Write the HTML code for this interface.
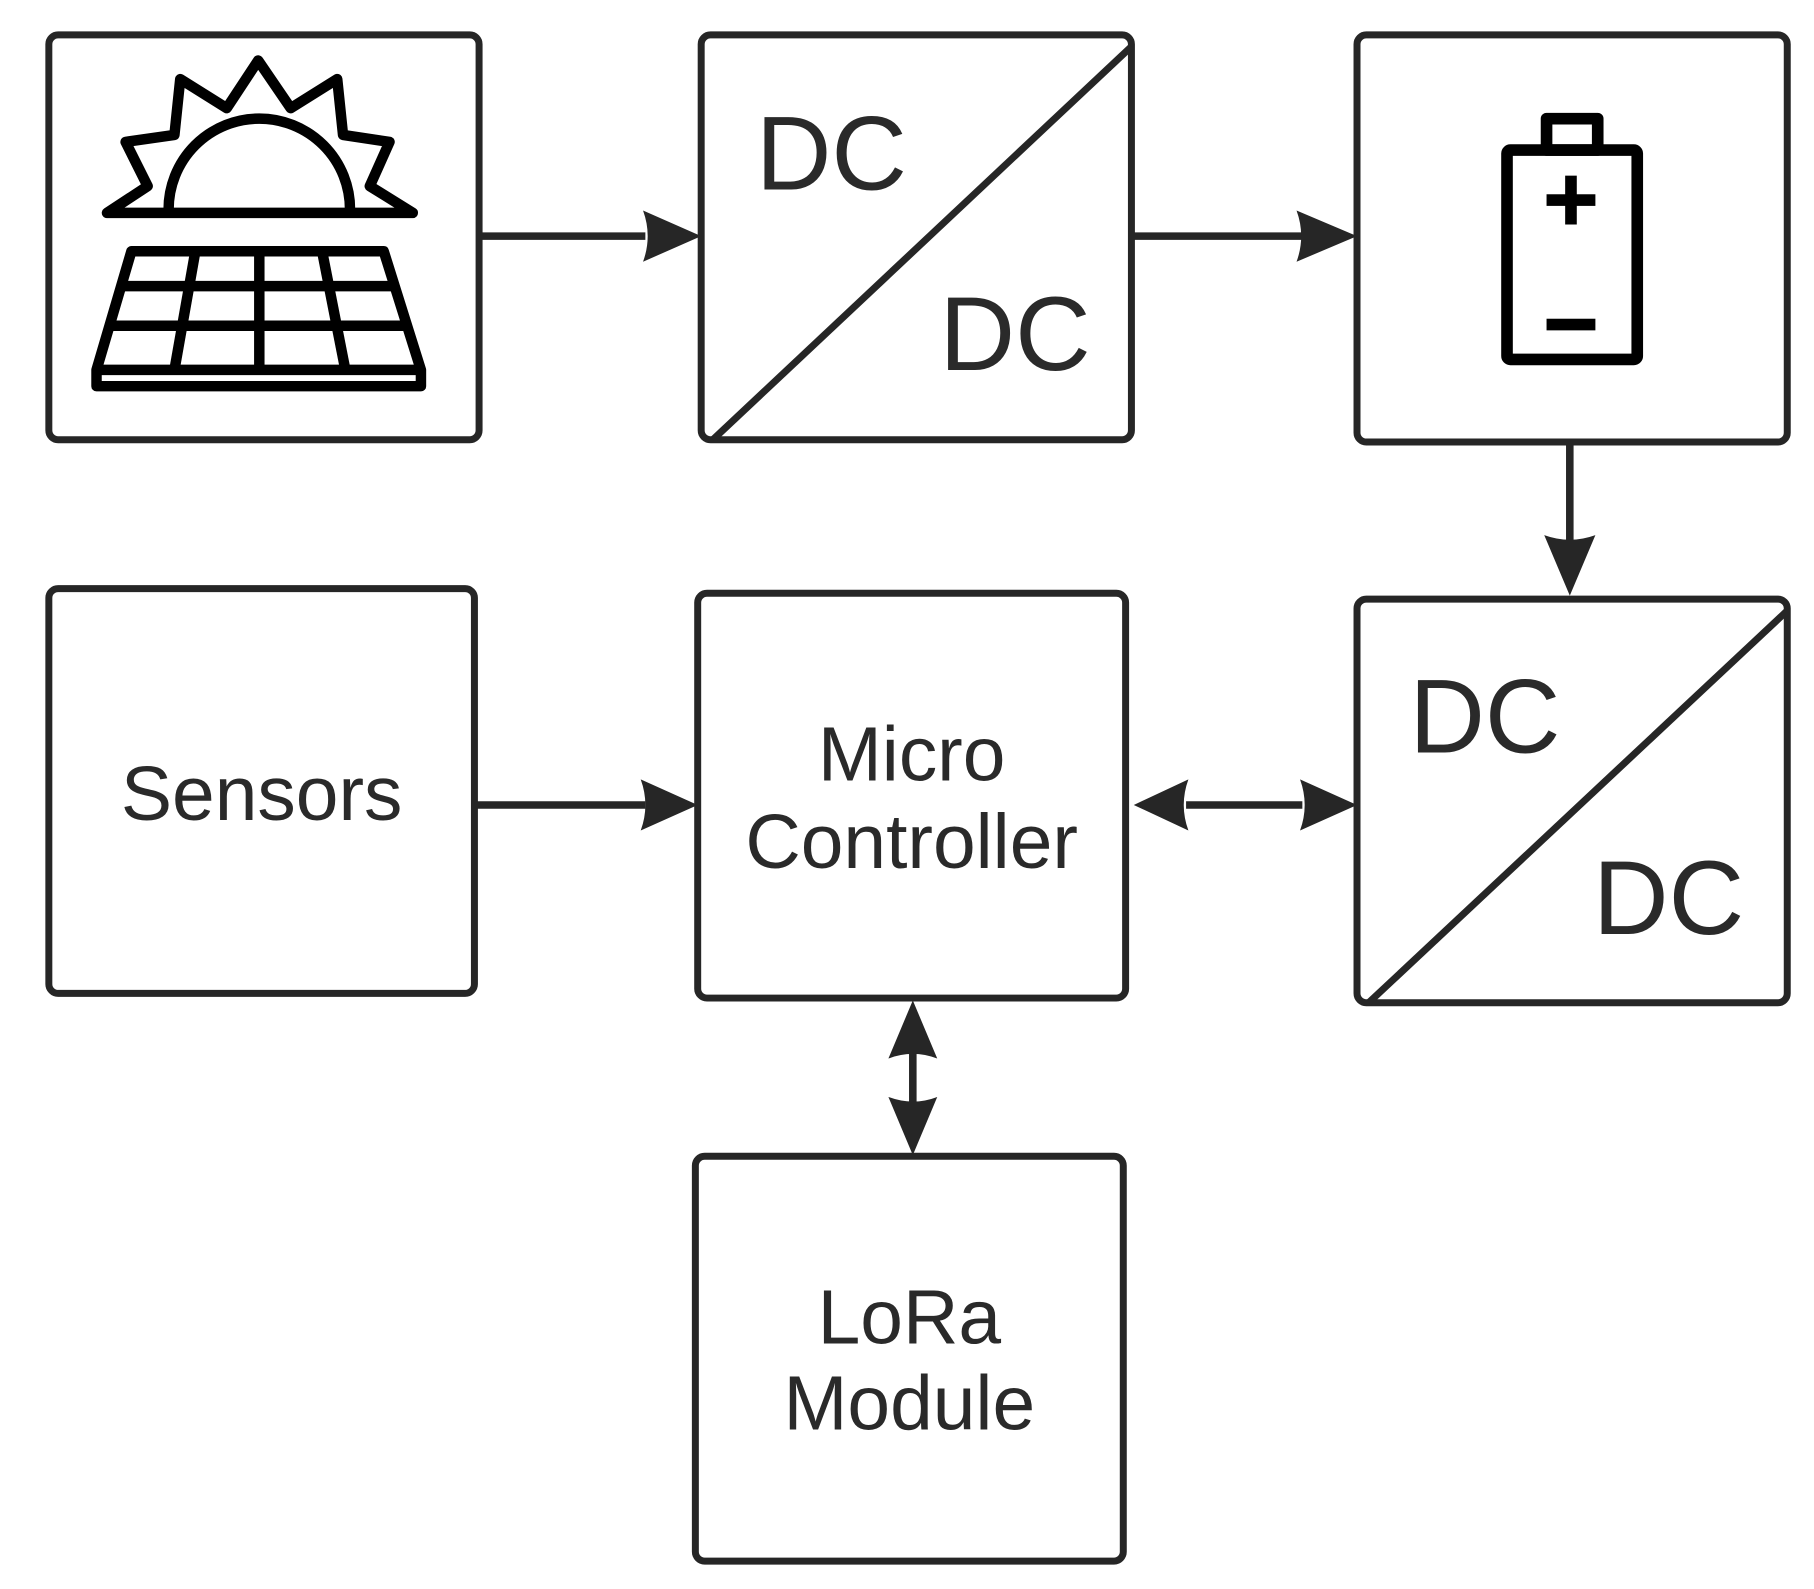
<!DOCTYPE html>
<html><head><meta charset="utf-8"><style>
html,body{margin:0;padding:0;background:#fff;}
svg{display:block;}
text{font-family:"Liberation Sans",sans-serif;fill:#2a2a2a;}
</style></head><body>
<svg width="1814" height="1589" viewBox="0 0 1560 1366" preserveAspectRatio="none" xmlns="http://www.w3.org/2000/svg">
<g fill="none" stroke="#262626" stroke-width="6">
<rect x="42" y="30" width="370" height="348" rx="8"/>
<rect x="603" y="30" width="370" height="348" rx="8"/>
<line x1="613" y1="378" x2="973" y2="40"/>
<rect x="1167" y="30" width="370" height="350" rx="8"/>
<rect x="42" y="506" width="366" height="348" rx="8"/>
<rect x="600" y="510" width="368" height="348" rx="8"/>
<rect x="1167" y="515" width="370" height="347" rx="8"/>
<line x1="1177" y1="862" x2="1537" y2="525"/>
<rect x="598" y="994" width="368" height="348" rx="8"/>
</g>
<g stroke="#262626" stroke-width="6.5" fill="#262626">
<path d="M412,203 L555,203" />
<path d="M553,181 L603,203 L553,225 Q561,203 553,181Z" stroke="none"/>
<path d="M975,203 L1120,203"/>
<path d="M1115,181 L1167,203 L1115,225 Q1123,203 1115,181Z" stroke="none"/>
<path d="M1350,380 L1350,470"/>
<path d="M1328,460 L1350,512 L1372,460 Q1350,468 1328,460Z" stroke="none"/>
<path d="M408,692 L555,692"/>
<path d="M551,670 L600,692 L551,714 Q559,692 551,670Z" stroke="none"/>
<path d="M1020,692 L1120,692"/>
<path d="M1022,670 L975,692 L1022,714 Q1014,692 1022,670Z" stroke="none"/>
<path d="M1118,670 L1167,692 L1118,714 Q1126,692 1118,670Z" stroke="none"/>
<path d="M785,905 L785,950"/>
<path d="M764,910 L785,860 L806,910 Q785,902 764,910Z" stroke="none"/>
<path d="M764,943 L785,993 L806,943 Q785,951 764,943Z" stroke="none"/>
</g>
<g fill="none" stroke="#000" stroke-width="9" stroke-linejoin="round">
<path d="M92,183 L355,183 L318,160 L335,122 L295,116 L290,68 L250,93 L222,52 L195,93 L155,68 L150,116 L108,122 L127,160 Z"/>
<path d="M145,180 A78,78 0 0 1 301,180"/>
<path d="M113,216 L330,216 L362,318 L362,332 L83,332 L83,318 Z"/>
<line x1="83" y1="318" x2="362" y2="318"/>
<line x1="105" y1="246" x2="337" y2="246"/>
<line x1="97" y1="280" x2="349" y2="280"/>
<line x1="168" y1="216" x2="150" y2="318"/>
<line x1="223" y1="216" x2="223" y2="318"/>
<line x1="277" y1="216" x2="297" y2="318"/>
</g>
<g fill="none" stroke="#000" stroke-width="10" stroke-linejoin="round">
<rect x="1296" y="129" width="112" height="180" rx="3"/>
<rect x="1330" y="102" width="44" height="27"/>
</g>
<g fill="#000">
<rect x="1330" y="167" width="42" height="10"/>
<rect x="1346" y="151" width="10" height="42"/>
<rect x="1330" y="274" width="42" height="10"/>
</g>
<text x="650" y="163" font-size="90">DC</text>
<text x="808" y="318" font-size="90">DC</text>
<text x="1212" y="647" font-size="90">DC</text>
<text x="1370" y="803" font-size="90">DC</text>
<text x="225" y="705" font-size="66" text-anchor="middle">Sensors</text>
<text x="784" y="671" font-size="66" text-anchor="middle">Micro</text>
<text x="784" y="746" font-size="66" text-anchor="middle">Controller</text>
<text x="782" y="1155" font-size="66" text-anchor="middle">LoRa</text>
<text x="782" y="1229" font-size="66" text-anchor="middle">Module</text>
</svg>
</body></html>
